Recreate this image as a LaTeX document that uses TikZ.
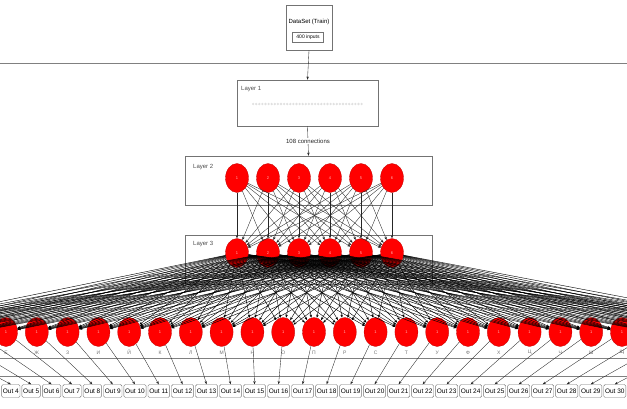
\documentclass[tikz,border=0pt]{standalone}
\usepackage{fontspec}
\setmainfont{Liberation Sans}
\usetikzlibrary{arrows.meta,positioning,shapes.geometric}

\begin{document}
\begin{tikzpicture}[
  x=1pt, y=-1pt,
  font=\fontsize{6}{7}\selectfont,
  >={Stealth[length=3.2pt,width=2.4pt]},
  frame/.style={
    rectangle, draw=black!55, line width=0.5pt,
    inner sep=0pt
  },
  layerlbl/.style={anchor=west, text=black!70, inner sep=0pt},
  neuron/.style={
    ellipse, fill=red, draw=red!75!black, line width=0.3pt,
    minimum width=23pt, minimum height=29pt, inner sep=0pt,
    font=\fontsize{4}{4}\selectfont, text=red!30!white
  },
  innode/.style={circle, fill=black!12, inner sep=0pt, minimum size=2.6pt},
  outbox/.style={
    rectangle, rounded corners=1.5pt,
    draw=black!55, fill=white,
    minimum height=13pt, inner xsep=1.3pt, inner ysep=0pt,
    font=\fontsize{6.5}{7}\selectfont
  },
  ghost/.style={outbox, draw=none, fill=none, minimum width=21pt},
  letter/.style={text=black!55, font=\fontsize{5}{5}\selectfont, inner sep=0pt},
  arr/.style={->, line width=0.35pt, black!85},
  fan/.style={->, line width=0.42pt, black},
  sep/.style={line width=0.6pt, black!50}
]
\clip (0,0) rectangle (627,408);

%% ── Top: training set ───────────────────────────────────────────────
\node[frame, minimum width=46pt, minimum height=45pt] (data) at (309,27.5) {};
\node[inner sep=0pt] (datattl) at (309,22) {DataSet (Train)};
\node[frame, minimum width=31pt, minimum height=10pt,
      font=\fontsize{5}{6}\selectfont] (inputs) at (308,37) {400 inputs};
\draw[sep] (0,63) -- (627,63);

%% ── Layer 1 ─────────────────────────────────────────────────────────
\node[frame, minimum width=141pt, minimum height=46pt] (l1) at (307.5,103) {};
\node[layerlbl] (l1lbl) at (241,89) {Layer 1};
\foreach \n in {1,...,36}
  \node[innode] (in\n) at (250+3.1*\n,104) {};
\draw[arr] (data.south) -- (l1.north);

%% ── Layer 2 ─────────────────────────────────────────────────────────
\node[frame, minimum width=247pt, minimum height=49pt] (l2) at (308.5,180.5) {};
\node[layerlbl] (l2lbl) at (193,167) {Layer 2};
\foreach \i in {1,...,6}
  \node[neuron] (b\i) at (206+31*\i,178) {\i};
\draw[arr] (l1.south) -- node[fill=white, inner sep=1pt] (conn) {108 connections} (l2.north);

%% ── Layer 3 ─────────────────────────────────────────────────────────
\node[frame, minimum width=247pt, minimum height=49pt] (l3) at (308.5,259.5) {};
\node[layerlbl] (l3lbl) at (193,244) {Layer 3};
\foreach \i in {1,...,6}
  \node[neuron] (c\i) at (206+31*\i,253) {\i};
\foreach \i in {1,...,6}
  \foreach \j in {1,...,6}
    \draw[arr] (b\i) -- (c\j);

%% ── Layer 4: one neuron per letter (the outer ones run off the page) ─
\foreach \c [count=\k from 0] in {А,Б,В,Г,Д,Е,Ж,З,И,Й,К,Л,М,Н,О,П,Р,С,Т,У,Ф,Х,Ц,Ч,Ш,Щ,Ъ,Ы,Ь,Э,Ю,Я} {
  \pgfmathsetmacro\xx{6+30.8*(\k-5)}
  \pgfmathtruncatemacro\vis{and(\xx>-12,\xx<640)}
  \ifnum\vis=1
    \node[neuron] (d\k) at (\xx,332) {1};
    \node[letter] (t\k) at (\xx,352.5) {\c};
  \else
    \node[neuron] (d\k) at (\xx,332) {};
  \fi
}
\foreach \i in {1,...,6}
  \foreach \k in {0,...,31}
    \draw[fan] (c\i) -- (d\k);

\draw[sep] (0,358) -- (627,358);
\draw[sep] (0,376) -- (627,376);

%% ── Outputs ─────────────────────────────────────────────────────────
\node[outbox] (out4) at (10.8,391) {Out 4};
\node[ghost, left=1.5pt of out4] (out3) {};
\node[ghost, left=1.5pt of out3] (out2) {};
\foreach \j [count=\p from 4] in {5,...,30}
  \node[outbox, right=1.5pt of out\p] (out\j) {Out \j};
\foreach \j [count=\p from 30] in {31,32,33}
  \node[ghost, right=1.5pt of out\p] (out\j) {};
\foreach \k [evaluate=\k as \m using int(\k+2)] in {0,...,31}
  \draw[arr] (d\k) -- (out\m.north);

\end{tikzpicture}
\end{document}
